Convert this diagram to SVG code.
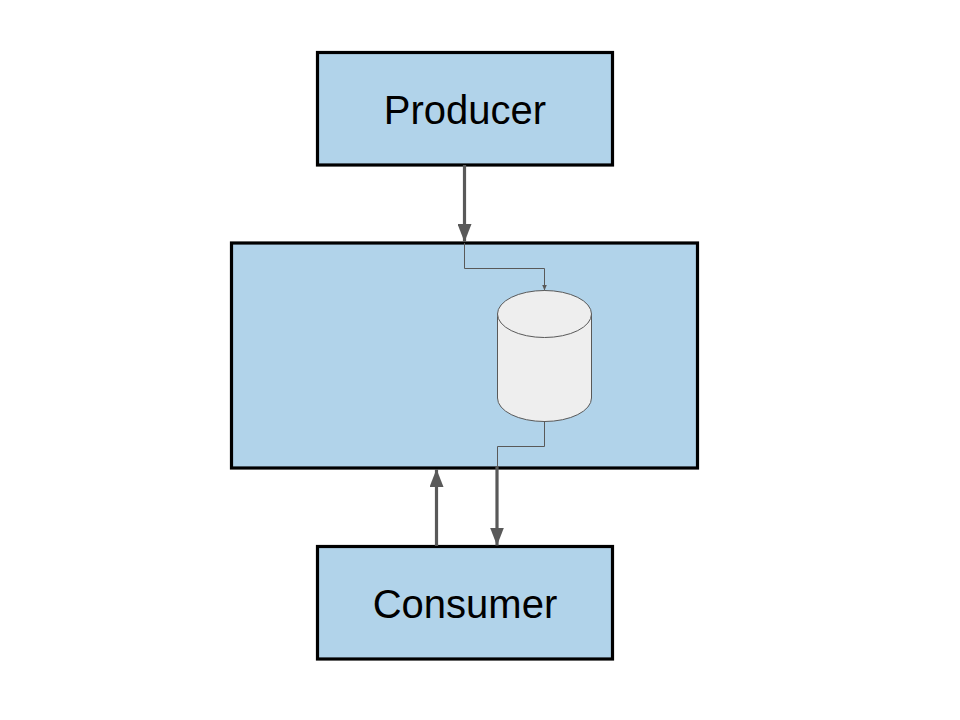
<svg xmlns="http://www.w3.org/2000/svg" width="960" height="720" viewBox="0 0 960 720">
<style>
.box{fill:#b1d3ea;stroke:#000;stroke-width:3.2}
.t{font-family:"Liberation Sans",Arial,sans-serif;font-size:40px;fill:#000;text-anchor:middle}
.thick{fill:none;stroke:#595959;stroke-width:3.2}
.thin{fill:none;stroke:#595959;stroke-width:1}
.cyl{fill:#eeeeee;stroke:#595959;stroke-width:1}
</style>
<defs>
<marker id="a" markerUnits="userSpaceOnUse" markerWidth="18" markerHeight="14" refX="18" refY="7" orient="auto" viewBox="0 0 18 14"><path d="M0 0L18 7L0 14Z" fill="#595959"/></marker>
<marker id="b" markerUnits="userSpaceOnUse" markerWidth="6" markerHeight="5" refX="6" refY="2.500" orient="auto" viewBox="0 0 6 5"><path d="M0 0L6 2.500L0 5Z" fill="#595959"/></marker>
</defs>
<rect width="960" height="720" fill="#fff"/>
<g id="broker"><rect class="box" x="231.500" y="243" width="466" height="225"/></g>
<g id="producer"><rect class="box" x="317.500" y="52.500" width="295" height="112.500"/><text class="t" x="465" y="124">Producer</text></g>
<g id="consumer"><rect class="box" x="317.500" y="546.500" width="295" height="112.500"/><text class="t" x="465" y="617.500">Consumer</text></g>
<g id="queue">
<path class="cyl" d="M497.500 314V398A47 23.500 0 0 0 591.500 398V314Z"/>
<ellipse class="cyl" cx="544.500" cy="314" rx="47" ry="23.500"/>
</g>
<g id="connectors">
<path class="thick" marker-end="url(#a)" d="M464.500 165V242"/>
<path class="thin" marker-end="url(#b)" d="M464.500 243V268.500H544.500V290.500"/>
<path class="thin" d="M544.500 421V446.500H497.500V468"/>
<path class="thick" marker-end="url(#a)" d="M497 466V545.500"/>
<path class="thick" marker-end="url(#a)" d="M436.500 546V469"/>
</g>
</svg>
